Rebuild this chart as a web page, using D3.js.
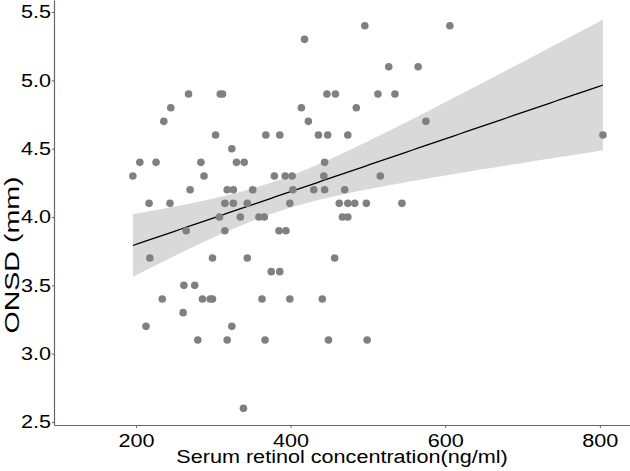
<!DOCTYPE html>
<html>
<head>
<meta charset="utf-8">
<script src="https://cdn.jsdelivr.net/npm/d3@7"></script>
<style>
body { margin: 0; background: #fff; }
svg { display: block; font-family: "Liberation Sans", Arial, sans-serif; }
</style>
</head>
<body>
<svg id="chart" width="630" height="471"></svg>
<script>
// ONSD rows (mm) and the serum retinol values (ng/ml) of the points in each row
var onsdLevels = [5.4, 5.3, 5.1, 4.9, 4.8, 4.7, 4.6, 4.5, 4.4, 4.3, 4.2, 4.1, 4.0, 3.9, 3.7, 3.6, 3.5, 3.4, 3.3, 3.2, 3.1, 2.6];
var retinolByLevel = [
    [496, 606],
    [418],
    [527, 565],
    [268, 309, 312, 447, 458, 513, 535],
    [245, 414, 485],
    [236, 423, 575],
    [303, 368, 386, 436, 448, 474, 804],
    [324],
    [205, 226, 284, 330, 340, 444],
    [196, 288, 379, 393, 402, 443, 516],
    [270, 318, 326, 351, 403, 430, 444, 470],
    [217, 244, 315, 326, 344, 399, 463, 474, 483, 498, 544],
    [308, 335, 359, 366, 467, 474],
    [265, 315, 385, 394],
    [218, 299, 344, 457],
    [375, 386],
    [262, 276],
    [234, 286, 296, 299, 363, 399, 441],
    [261],
    [213, 324],
    [280, 318, 367, 449, 499],
    [339]
];
var xTicks = [200, 400, 600, 800];
var yTicks = [2.5, 3.0, 3.5, 4.0, 4.5, 5.0, 5.5];
var xTitle = "Serum retinol concentration(ng/ml)";
var yTitle = "ONSD (mm)";

var svg = d3.select("#chart");
var margin = {top: 0, right: 0, bottom: 46, left: 54};
var width = 630 - margin.left - margin.right;
var height = 471 - margin.top - margin.bottom;
var stretch = 1.2;

var pts = [];
onsdLevels.forEach(function(lv, i) {
    retinolByLevel[i].forEach(function(r) { pts.push({x: r, y: lv}); });
});

var x = d3.scaleLinear().domain([94, 839]).range([0, width]);
var y = d3.scaleLinear().domain([2.478, 5.588]).range([height, 0]);

var g = svg.append("g")
    .attr("transform", "translate(" + margin.left + "," + margin.top + ")");

// linear fit with 95% confidence band
var n = pts.length;
var mx = d3.mean(pts, d => d.x), my = d3.mean(pts, d => d.y);
var sxx = d3.sum(pts, d => (d.x - mx) * (d.x - mx));
var sxy = d3.sum(pts, d => (d.x - mx) * (d.y - my));
var b = sxy / sxx, a = my - b * mx;
var s = Math.sqrt(d3.sum(pts, d => Math.pow(d.y - a - b * d.x, 2)) / (n - 2));
var tq = 1.986;
var ext = d3.extent(pts, d => d.x);
var grid = d3.range(80).map(i => ext[0] + (ext[1] - ext[0]) * i / 79);
var band = grid.map(function(v) {
    var fit = a + b * v;
    var se = s * Math.sqrt(1 / n + (v - mx) * (v - mx) / sxx);
    return {x: v, fit: fit, lo: fit - tq * se, hi: fit + tq * se};
});

g.append("path")
    .datum(band)
    .attr("fill", "#d9d9d9")
    .attr("d", d3.area().x(d => x(d.x)).y0(d => y(d.lo)).y1(d => y(d.hi)));

g.append("path")
    .datum(band)
    .attr("fill", "none")
    .attr("stroke", "#000")
    .attr("stroke-width", 1.3)
    .attr("d", d3.line().x(d => x(d.x)).y(d => y(d.fit)));

g.selectAll("circle")
    .data(pts)
    .enter()
    .append("circle")
    .attr("cx", d => x(d.x))
    .attr("cy", d => y(d.y))
    .attr("r", 3.8)
    .attr("fill", "#808080");

// axes
var xAxis = g.append("g")
    .attr("transform", "translate(0," + height + ")")
    .call(d3.axisBottom(x).tickValues(xTicks).tickSize(3).tickSizeOuter(0).tickPadding(6));
var yAxis = g.append("g")
    .call(d3.axisLeft(y).tickValues(yTicks).tickFormat(d3.format(".1f")).tickSize(2).tickSizeOuter(0).tickPadding(1));

[xAxis, yAxis].forEach(function(ax) {
    ax.select(".domain").attr("stroke", "#666").attr("stroke-width", 1.2);
    ax.selectAll(".tick line").attr("stroke", "#666");
    ax.selectAll("text").attr("font-size", 18).attr("fill", "#000")
        .style("font-family", '"Liberation Sans", Arial, sans-serif');
});

svg.append("text")
    .attr("class", "title")
    .attr("x", margin.left + width / 2)
    .attr("y", 463)
    .attr("text-anchor", "middle")
    .attr("font-size", 18)
    .text(xTitle);

var yLab = svg.append("text")
    .attr("transform", "translate(19,255) rotate(-90)")
    .attr("text-anchor", "middle")
    .attr("font-size", 20)
    .text(yTitle);

// the picture is a little wider than tall, so widen the text the same way
svg.selectAll(".tick text, .title").each(function() {
    var len = this.getComputedTextLength();
    d3.select(this).attr("textLength", len * stretch).attr("lengthAdjust", "spacingAndGlyphs");
});
yLab.attr("textLength", 157).attr("lengthAdjust", "spacingAndGlyphs");
</script>
</body>
</html>
